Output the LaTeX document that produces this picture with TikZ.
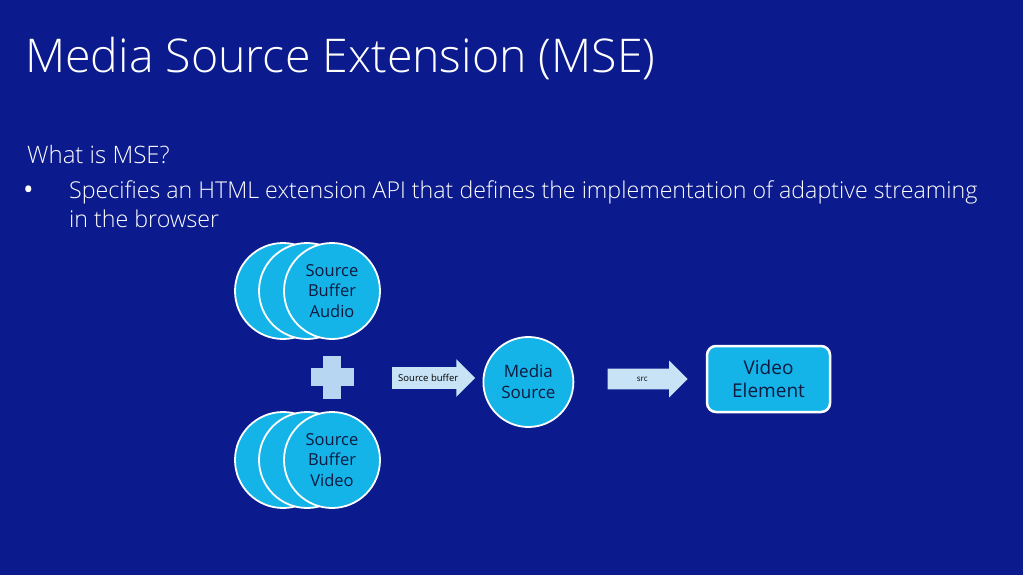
\documentclass[tikz,border=0pt]{standalone}
\usepackage{fontspec}
\setmainfont{Open Sans}
\newfontfamily\lightfont{Open Sans Light}
\usetikzlibrary{shapes.arrows,positioning}
\definecolor{slidebg}{HTML}{0B1A8C}
\definecolor{bufcyan}{HTML}{14B4E8}
\definecolor{arrowblue}{HTML}{C8E3F6}
\definecolor{plusblue}{HTML}{B6D6F2}
\definecolor{inkdark}{HTML}{0E1A40}

\begin{document}
\begin{tikzpicture}[
    x=1pt, y=-1pt,
    buf/.style={circle, draw=white, line width=1.8pt, fill=bufcyan, minimum size=96pt, inner sep=0pt, align=center, text=inkdark, font=\fontsize{16.5}{20.5}\selectfont},
    blockarrow/.style={single arrow, fill=arrowblue, single arrow head extend=8pt, inner xsep=2pt, text=black, anchor=tail},
    elem/.style={draw=white, line width=2.5pt, rounded corners=9pt, fill=bufcyan, minimum width=123pt, minimum height=66pt, align=center, text=inkdark, font=\fontsize{19}{23}\selectfont},
    slidetext/.style={text=white, anchor=base west, inner sep=0pt}
]
\useasboundingbox[fill=slidebg] (0,0) rectangle (1023,575);

\node[slidetext, font=\lightfont\fontsize{46.5}{50}\selectfont] (title) at (25,73) {Media Source Extension (MSE)};
\node[slidetext, font=\lightfont\fontsize{24}{26}\selectfont] (question) at (27,164) {What is MSE?};
\node[slidetext, font=\fontsize{28}{28}\selectfont] (dot) at (23,200) {\textbullet};
\node[slidetext, font=\lightfont\fontsize{23.2}{26}\selectfont] (line1) at (69,198) {Specifies an HTML extension API that defines the implementation of adaptive streaming};
\node[slidetext, font=\lightfont\fontsize{23.2}{26}\selectfont] (line2) at (69,227) {in the browser};

\foreach \dx/\nm in {49/audC,25/audB} \node[buf] (\nm) at (332-\dx,291) {};
\node[buf] (audio) at (332,291) {Source\\Buffer\\Audio};
\foreach \dx/\nm in {49/vidC,25/vidB} \node[buf] (\nm) at (332-\dx,460) {};
\node[buf] (videobuf) at (332,460) {Source\\Buffer\\Video};

\node[fill=plusblue, minimum width=43pt, minimum height=18pt, inner sep=0pt] (plush) at (332,377) {};
\node[fill=plusblue, minimum width=18pt, minimum height=43pt, inner sep=0pt] (plusv) at (plush) {};

\node[blockarrow, minimum height=83pt, inner ysep=7pt, font=\fontsize{9.5}{10}\selectfont] (bufarrow) at (392,378) {Source buffer};
\node[buf, minimum size=90pt, font=\fontsize{17}{21}\selectfont, right=7pt of bufarrow, yshift=-4pt] (media) {Media\\Source};
\node[blockarrow, minimum height=80pt, inner ysep=8pt, font=\fontsize{8}{9}\selectfont, anchor=west, right=33pt of bufarrow.tip -| media.east, yshift=-1pt] (srcarrow) {src};
\node[elem, right=18pt of srcarrow] (video) {Video\\Element};
\end{tikzpicture}
\end{document}
